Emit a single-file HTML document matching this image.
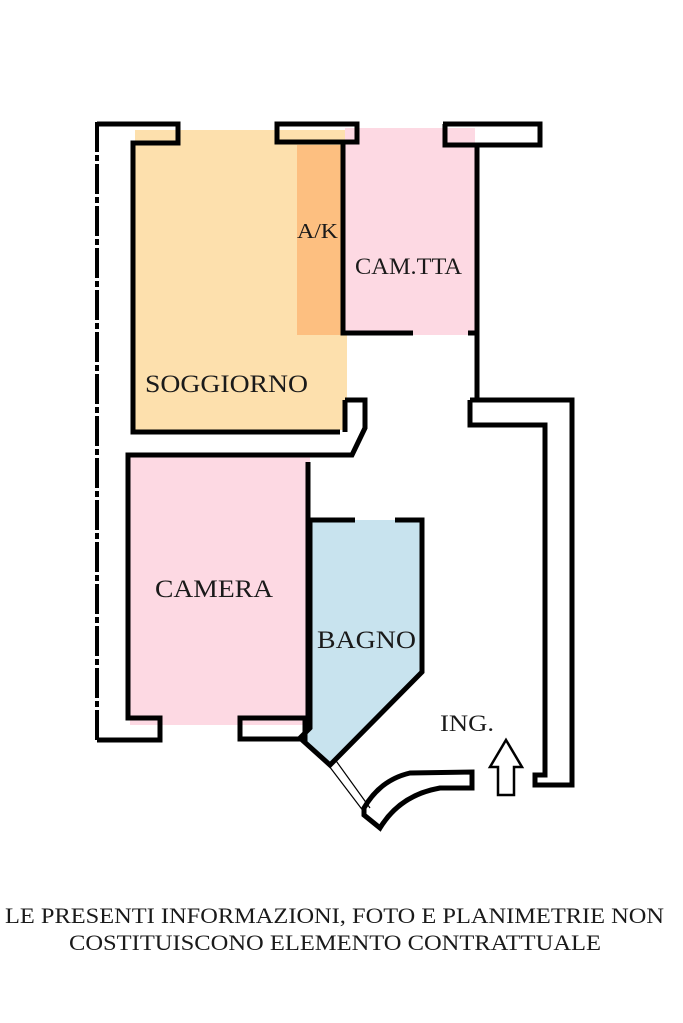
<!DOCTYPE html>
<html><head><meta charset="utf-8"><style>
html,body{margin:0;padding:0;background:#fff;}
svg{display:block;}
text{font-family:"Liberation Serif",serif;fill:#1a1a1a;}
</style></head><body>
<svg width="683" height="1023" viewBox="0 0 683 1023" xmlns="http://www.w3.org/2000/svg">
<rect x="135" y="130" width="212" height="300" fill="#fde0ad"/>
<rect x="297" y="145" width="45" height="190" fill="#fdbf80"/>
<rect x="345" y="128" width="130" height="207" fill="#fdd9e3"/>
<rect x="130" y="455" width="180" height="270" fill="#fdd9e3"/>
<polygon points="310,520 422,520 422,672 330,765 300,738 310,728" fill="#c8e3ee"/>

<g fill="none" stroke="#000" stroke-width="5">
<line x1="97" y1="122" x2="97" y2="740" stroke-width="4" stroke-dasharray="30,3,6,3"/>
<polyline points="97,124 178,124 178,143 133,143 133,432 340,432"/>
<rect x="277" y="124" width="80" height="18"/>
<polyline points="443,124 540,124 540,145 445,145 445,124"/>
<line x1="477" y1="145" x2="540" y2="145"/>
<polyline points="343,142 343,333 413,333"/>
<line x1="468" y1="333" x2="477" y2="333"/>
<line x1="477" y1="145" x2="477" y2="400"/>
<polyline points="470,400 572,400 572,785 535,785 535,775 545,775 545,425 470,425 470,400"/>
<polyline points="345,400 365,400 365,428 352,455 310,455"/>
<line x1="345" y1="400" x2="345" y2="432"/>
<polyline points="310,455 128,455 128,718 160,718 160,740 97,740"/>
<polyline points="308,462 308,718"/>
<rect x="240" y="718" width="65" height="21"/>
<polyline points="310,520 355,520"/>
<polyline points="395,520 422,520 422,672 330,765 300,738 310,728 310,520"/>
<path d="M364,808 Q380,780 410,773 L472,772 L472,788 L440,788 Q400,795 380,828 L364,815 Z"/>
</g>
<g stroke="#000" stroke-width="1.2">
<line x1="326" y1="762" x2="364" y2="812"/>
<line x1="334" y1="758" x2="370" y2="808"/>
</g>
<polygon points="506,740 522,767 514,767 514,795 498,795 498,767 490,767" fill="#fff" stroke="#000" stroke-width="2.5"/>

<text x="145" y="392" font-size="25" textLength="163" lengthAdjust="spacingAndGlyphs">SOGGIORNO</text>
<text x="297" y="238" font-size="21" textLength="41" lengthAdjust="spacingAndGlyphs">A/K</text>
<text x="355" y="274" font-size="23" textLength="107" lengthAdjust="spacingAndGlyphs">CAM.TTA</text>
<text x="155" y="597" font-size="25" textLength="118" lengthAdjust="spacingAndGlyphs">CAMERA</text>
<text x="317" y="648" font-size="25" textLength="99" lengthAdjust="spacingAndGlyphs">BAGNO</text>
<text x="440" y="731" font-size="23" textLength="54" lengthAdjust="spacingAndGlyphs">ING.</text>
<text x="5" y="923" font-size="22" textLength="659" lengthAdjust="spacingAndGlyphs">LE PRESENTI INFORMAZIONI, FOTO E PLANIMETRIE NON</text>
<text x="69" y="950" font-size="22" textLength="532" lengthAdjust="spacingAndGlyphs">COSTITUISCONO ELEMENTO CONTRATTUALE</text>
</svg>
</body></html>
